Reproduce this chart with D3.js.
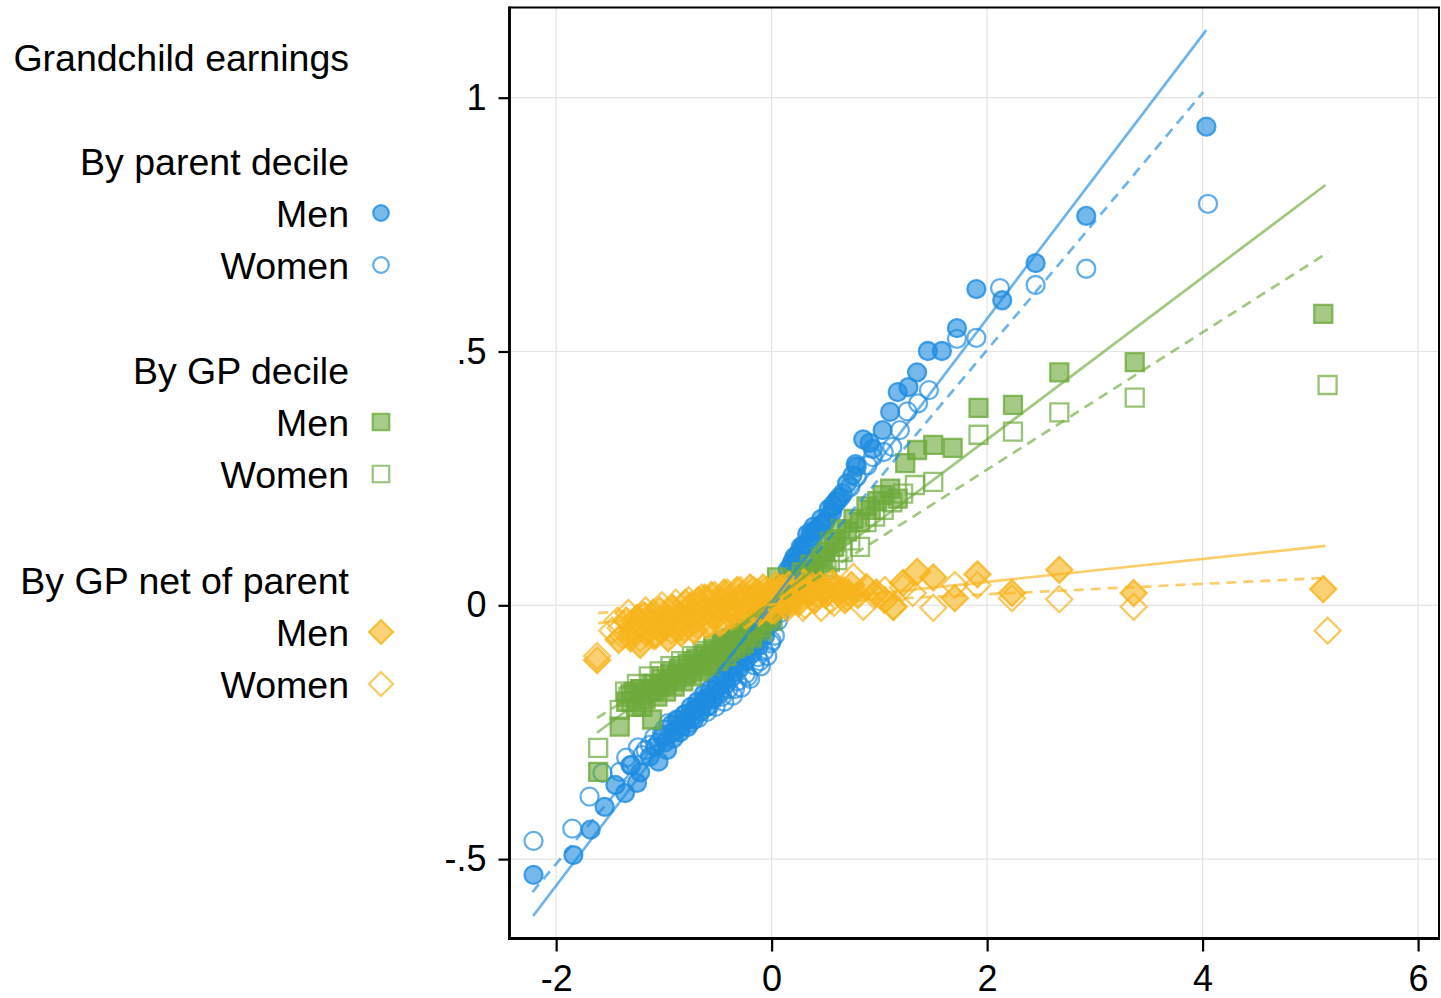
<!DOCTYPE html>
<html>
<head>
<meta charset="utf-8">
<script src="https://cdn.jsdelivr.net/npm/d3@7"></script>
<style>
  html, body { margin: 0; padding: 0; background: #fff; }
  svg { display: block; }
  text { font-family: "Liberation Sans", Arial, Helvetica, sans-serif; fill: #000; }
</style>
</head>
<body>
<svg id="chart" width="1441" height="998"></svg>
<script>
// ---------- DATA ----------
const xTicks = [-2, 0, 2, 4, 6];
const xTickLabels = ["-2", "0", "2", "4", "6"];
const yTicks = [-0.5, 0, 0.5, 1];
const yTickLabels = ["-.5", "0", ".5", "1"];

const legendTitle = "Grandchild earnings";
const groupLabels = ["By parent decile", "By GP decile", "By GP net of parent"];
const sexLabels = ["Men", "Women"];

// By parent decile — men (filled circles)
const parentMen = [
  [-2.21,-0.531],[-1.84,-0.492],[-1.68,-0.442],[-1.55,-0.397],[-1.45,-0.354],[-1.36,-0.37],
  [-1.31,-0.315],[-1.25,-0.35],[-1.22,-0.329],[-1.13,-0.298],[-1.08,-0.279],[-1.05,-0.308],
  [-1.01,-0.259],[-0.97,-0.285],[-0.93,-0.235],[-0.91,-0.262],[-0.87,-0.226],[-0.85,-0.25],
  [-0.81,-0.215],[-0.78,-0.24],[-0.75,-0.20],[-0.72,-0.225],[-0.69,-0.19],[-0.66,-0.21],
  [-0.63,-0.175],[-0.60,-0.20],[-0.57,-0.165],[-0.54,-0.185],[-0.51,-0.15],[-0.48,-0.17],
  [-0.45,-0.135],[-0.42,-0.155],[-0.39,-0.12],[-0.36,-0.14],[-0.33,-0.105],[-0.30,-0.125],
  [-0.27,-0.09],[-0.24,-0.11],[-0.21,-0.075],[-0.18,-0.095],[-0.15,-0.06],[-0.12,-0.08],
  [-0.09,-0.045],[-0.06,-0.06],[-0.03,-0.025],[0.00,-0.035],[0.03,0.0],[0.06,0.01],
  [0.09,0.035],[0.12,0.045],[0.15,0.07],[0.18,0.079],[0.21,0.095],[0.24,0.10],
  [0.27,0.115],[0.30,0.12],[0.33,0.14],[0.36,0.135],[0.39,0.155],[0.42,0.15],
  [0.46,0.17],[0.50,0.165],[0.53,0.19],[0.56,0.182],[0.60,0.205],[0.62,0.211],
  [0.66,0.221],[0.70,0.24],[0.75,0.256],[0.79,0.273],[0.78,0.278],[0.85,0.327],
  [0.91,0.320],[0.94,0.308],[1.03,0.345],[1.10,0.381],[1.17,0.420],[1.27,0.430],
  [1.35,0.459],[1.45,0.501],[1.58,0.501],[1.72,0.546],[1.90,0.623],[2.14,0.601],
  [2.45,0.674],[2.92,0.767],[4.035,0.943],
  [-0.99,-0.27],[-0.89,-0.245],[-0.79,-0.225],[-0.70,-0.205],[-0.61,-0.185],[-0.52,-0.165],
  [-0.43,-0.145],[-0.34,-0.12],[-0.25,-0.10],[-0.16,-0.075],[-0.07,-0.05],[0.02,-0.015],
  [0.10,0.04],[0.19,0.085],[0.28,0.11],[0.37,0.145],[0.47,0.16],[0.57,0.195]
];
// By parent decile — women (hollow circles)
const parentWomen = [
  [-2.21,-0.464],[-1.85,-0.44],[-1.69,-0.377],[-1.57,-0.33],[-1.41,-0.328],[-1.35,-0.30],
  [-1.30,-0.315],[-1.24,-0.28],[-1.20,-0.295],[-1.13,-0.275],[-1.09,-0.26],[-1.05,-0.27],
  [-1.00,-0.245],[-0.96,-0.232],[-0.92,-0.25],[-0.88,-0.225],[-0.84,-0.24],[-0.80,-0.215],
  [-0.76,-0.232],[-0.72,-0.205],[-0.68,-0.222],[-0.64,-0.196],[-0.60,-0.21],[-0.56,-0.185],
  [-0.52,-0.20],[-0.48,-0.175],[-0.44,-0.19],[-0.40,-0.165],[-0.36,-0.178],[-0.32,-0.15],
  [-0.28,-0.162],[-0.24,-0.135],[-0.20,-0.145],[-0.16,-0.118],[-0.13,-0.102],[-0.10,-0.12],
  [-0.07,-0.09],[-0.04,-0.10],[-0.01,-0.075],[0.03,-0.06],[0.06,-0.03],[0.10,0.00],
  [0.13,0.03],[0.17,0.05],[0.20,0.07],[0.23,0.085],[0.28,0.10],[0.33,0.115],
  [0.38,0.13],[0.45,0.154],[0.52,0.174],[0.57,0.198],[0.64,0.213],[0.73,0.233],
  [0.79,0.253],[0.89,0.276],[0.94,0.292],[1.04,0.302],[1.12,0.312],[1.19,0.345],
  [1.26,0.382],[1.36,0.398],[1.46,0.424],[1.72,0.525],[1.90,0.527],[2.12,0.625],
  [2.45,0.631],[2.92,0.663],[4.05,0.791],
  [-1.17,-0.285],[-1.02,-0.255],[-0.86,-0.235],[-0.70,-0.215],[-0.58,-0.198],[-0.46,-0.18],
  [-0.34,-0.165],[-0.22,-0.14],[-0.11,-0.11],[0.00,-0.07],[0.08,-0.015],[0.15,0.04],
  [0.25,0.09],[0.35,0.12],[0.42,0.145],[0.48,0.16],[0.60,0.205]
];
// By GP decile — men (filled squares)
const gpMen = [
  [-1.61,-0.328],[-1.41,-0.239],[-1.35,-0.19],[-1.31,-0.175],[-1.26,-0.20],[-1.22,-0.165],
  [-1.17,-0.185],[-1.11,-0.225],[-1.10,-0.155],[-1.06,-0.18],[-1.02,-0.145],[-0.98,-0.17],
  [-0.94,-0.135],[-0.90,-0.16],[-0.86,-0.125],[-0.82,-0.15],[-0.78,-0.115],[-0.74,-0.14],
  [-0.70,-0.105],[-0.66,-0.13],[-0.62,-0.095],[-0.58,-0.12],[-0.54,-0.085],[-0.50,-0.11],
  [-0.46,-0.075],[-0.42,-0.10],[-0.38,-0.065],[-0.34,-0.085],[-0.30,-0.055],[-0.26,-0.075],
  [-0.22,-0.045],[-0.18,-0.06],[-0.14,-0.03],[-0.10,-0.045],[-0.06,-0.015],[-0.02,-0.025],
  [0.02,0.0],[0.05,0.055],[0.08,0.02],[0.12,0.035],[0.16,0.025],[0.20,0.05],
  [0.24,0.04],[0.28,0.065],[0.32,0.055],[0.36,0.08],[0.40,0.07],[0.45,0.095],
  [0.50,0.105],[0.54,0.125],[0.60,0.13],[0.64,0.15],[0.70,0.145],[0.76,0.17],
  [0.82,0.164],[0.88,0.195],[0.92,0.188],[0.98,0.205],[1.03,0.217],[1.10,0.23],
  [1.17,0.21],[1.24,0.28],[1.35,0.306],[1.50,0.316],[1.68,0.310],[1.92,0.389],
  [2.24,0.395],[2.67,0.459],[3.37,0.479],[5.12,0.574],
  [-1.28,-0.17],[-1.20,-0.20],[-1.12,-0.17],[-1.04,-0.16],[-0.96,-0.15],[-0.88,-0.14],
  [-0.80,-0.135],[-0.72,-0.12],[-0.64,-0.115],[-0.56,-0.10],[-0.48,-0.09],[-0.40,-0.08],
  [-0.32,-0.07],[-0.24,-0.06],[-0.16,-0.045],[-0.08,-0.03],[0.00,-0.01],[0.10,0.01],
  [0.22,0.045],[0.34,0.065],[0.47,0.09],[0.58,0.115]
];
// By GP decile — women (hollow squares)
const gpWomen = [
  [-1.61,-0.281],[-1.41,-0.206],[-1.36,-0.17],[-1.30,-0.19],[-1.25,-0.155],[-1.19,-0.175],
  [-1.14,-0.14],[-1.09,-0.165],[-1.04,-0.13],[-0.99,-0.155],[-0.94,-0.12],[-0.89,-0.145],
  [-0.84,-0.11],[-0.79,-0.135],[-0.74,-0.10],[-0.69,-0.125],[-0.64,-0.09],[-0.59,-0.115],
  [-0.54,-0.08],[-0.49,-0.105],[-0.44,-0.07],[-0.39,-0.09],[-0.34,-0.06],[-0.29,-0.08],
  [-0.24,-0.045],[-0.19,-0.065],[-0.14,-0.035],[-0.09,-0.05],[-0.04,-0.02],[0.01,-0.03],
  [0.06,0.0],[0.11,0.015],[0.16,0.01],[0.21,0.035],[0.26,0.03],[0.31,0.05],
  [0.36,0.045],[0.42,0.065],[0.48,0.075],[0.54,0.085],[0.61,0.089],[0.66,0.105],
  [0.73,0.128],[0.82,0.115],[0.88,0.164],[0.96,0.175],[1.04,0.188],[1.12,0.203],
  [1.22,0.22],[1.33,0.237],[1.50,0.243],[1.92,0.336],[2.24,0.342],[2.67,0.38],
  [3.37,0.409],[5.16,0.434],
  [-1.33,-0.18],[-1.22,-0.165],[-1.12,-0.155],[-1.02,-0.14],[-0.92,-0.13],[-0.82,-0.12],
  [-0.72,-0.11],[-0.62,-0.10],[-0.52,-0.09],[-0.42,-0.08],[-0.32,-0.065],[-0.22,-0.055],
  [-0.12,-0.04],[-0.02,-0.01],[0.08,0.005],[0.18,0.025],[0.28,0.04],[0.39,0.055],[0.51,0.07]
];
// By GP net of parent — men (filled diamonds)
const netMen = [
  [-1.62,-0.108],[-1.42,-0.068],[-1.35,-0.03],[-1.28,-0.05],[-1.22,-0.078],[-1.18,-0.02],
  [-1.13,-0.035],[-1.08,-0.06],[-1.04,-0.01],[-1.00,-0.04],[-0.96,-0.065],[-0.92,-0.005],
  [-0.88,-0.03],[-0.84,-0.055],[-0.80,0.005],[-0.76,-0.02],[-0.72,-0.05],[-0.68,0.01],
  [-0.64,-0.015],[-0.60,-0.04],[-0.56,0.02],[-0.52,-0.005],[-0.48,-0.035],[-0.44,0.025],
  [-0.40,0.0],[-0.36,-0.025],[-0.32,0.03],[-0.28,0.005],[-0.24,-0.02],[-0.20,0.035],
  [-0.16,0.01],[-0.12,-0.015],[-0.08,0.035],[-0.04,0.015],[0.00,-0.01],[0.04,0.04],
  [0.08,0.02],[0.12,0.0],[0.16,0.04],[0.20,0.02],[0.25,0.005],[0.30,0.045],
  [0.35,0.025],[0.40,0.01],[0.45,0.04],[0.50,0.02],[0.56,0.045],[0.62,0.025],
  [0.68,0.01],[0.74,0.04],[0.80,0.02],[0.88,0.036],[0.97,0.025],[1.05,0.01],
  [1.13,-0.003],[1.22,0.044],[1.35,0.066],[1.50,0.055],[1.70,0.014],[1.91,0.061],
  [2.23,0.024],[2.67,0.07],[3.36,0.024],[5.12,0.032],
  [-1.31,-0.065],[-1.25,-0.025],[-1.16,-0.055],[-1.10,-0.015],[-1.02,-0.05],[-0.94,-0.025],
  [-0.86,-0.045],[-0.78,-0.01],[-0.70,-0.03],[-0.62,0.015],[-0.54,-0.02],[-0.46,0.01],
  [-0.38,-0.01],[-0.30,0.015],[-0.22,0.0],[-0.14,0.025],[-0.06,0.0],[0.02,0.025],
  [0.10,0.035],[0.18,0.005],[0.27,0.03],[0.37,0.04],[0.48,0.03],[0.59,0.035],[0.71,0.025]
];
// By GP net of parent — women (hollow diamonds)
const netWomen = [
  [-1.62,-0.10],[-1.48,-0.05],[-1.43,-0.03],[-1.38,-0.06],[-1.33,-0.015],[-1.27,-0.04],
  [-1.22,-0.065],[-1.17,-0.01],[-1.12,-0.035],[-1.07,-0.055],[-1.02,0.0],[-0.97,-0.025],
  [-0.93,-0.05],[-0.89,0.005],[-0.85,-0.02],[-0.81,-0.045],[-0.77,0.01],[-0.73,-0.015],
  [-0.69,-0.04],[-0.65,0.015],[-0.61,-0.01],[-0.57,-0.035],[-0.53,0.02],[-0.49,-0.005],
  [-0.45,-0.03],[-0.41,0.025],[-0.37,0.0],[-0.33,-0.02],[-0.29,0.03],[-0.25,0.01],
  [-0.21,-0.015],[-0.17,0.03],[-0.13,0.01],[-0.09,-0.01],[-0.05,0.03],[-0.01,0.005],
  [0.03,-0.01],[0.07,0.03],[0.11,0.01],[0.15,-0.005],[0.19,0.03],[0.24,0.01],
  [0.29,-0.005],[0.34,0.03],[0.40,0.01],[0.46,-0.005],[0.52,0.025],[0.58,0.005],
  [0.66,0.03],[0.76,0.056],[0.85,-0.003],[0.95,0.02],[1.05,0.03],[1.13,-0.003],
  [1.22,0.035],[1.31,0.024],[1.50,-0.005],[1.70,0.04],[1.91,0.04],[2.23,0.014],
  [2.67,0.012],[3.36,-0.003],[5.16,-0.05],
  [-1.40,-0.045],[-1.30,-0.055],[-1.20,-0.02],[-1.10,-0.06],[-1.00,-0.035],[-0.91,-0.01],
  [-0.83,-0.035],[-0.75,0.0],[-0.67,-0.025],[-0.59,0.01],[-0.51,-0.02],[-0.43,0.015],
  [-0.35,-0.01],[-0.27,0.02],[-0.19,0.0],[-0.11,0.02],[-0.03,-0.005],[0.05,0.02],
  [0.13,0.0],[0.21,0.015],[0.31,0.0],[0.44,0.02],[0.55,0.01],[0.70,0.015]
];

// Linear fit lines: [x0, y0, x1, y1]
const fitParentMen   = [-2.214, -0.612, 4.034, 1.133];
const fitParentWomen = [-2.22, -0.565, 4.006, 1.011];
const fitGpMen       = [-1.62, -0.251, 5.14, 0.828];
const fitGpWomen     = [-1.62, -0.222, 5.17, 0.696];
const fitNetMen      = [-1.61, -0.035, 5.14, 0.117];
const fitNetWomen    = [-1.61, -0.015, 5.15, 0.054];

// ---------- SETUP ----------
const svg = d3.select("#chart");
const plot = { left: 509.5, right: 1439, top: 7.5, bottom: 938.5 };
const x = d3.scaleLinear().domain([-2.433, 6.194]).range([plot.left, plot.right]);
const y = d3.scaleLinear().domain([-0.6564, 1.1777]).range([plot.bottom, plot.top]);

const colors = { blue: "#1e8ce0", green: "#6eaa3c", orange: "#f7b41c" };

// gridlines
const grid = svg.append("g");
grid.selectAll("line.vx").data(xTicks).join("line")
  .attr("x1", d => x(d)).attr("x2", d => x(d))
  .attr("y1", plot.top).attr("y2", plot.bottom)
  .attr("stroke", "#e4e4e4").attr("stroke-width", 1.2);
grid.selectAll("line.hy").data(yTicks).join("line")
  .attr("y1", d => y(d)).attr("y2", d => y(d))
  .attr("x1", plot.left).attr("x2", plot.right)
  .attr("stroke", "#e4e4e4").attr("stroke-width", 1.2);

// marker paths
const squarePath = s => `M${-s/2},${-s/2}h${s}v${s}h${-s}Z`;
const diamondPath = h => `M0,${-h}L${h},0L0,${h}L${-h},0Z`;

function drawMarkers(g, data, shape, color, filled) {
  const sel = g.append("g").selectAll("path").data(data).join("path")
    .attr("transform", d => `translate(${x(d[0])},${y(d[1])})`)
    .attr("d", () => shape === "circle" ? d3.symbol(d3.symbolCircle, Math.PI * 9 * 9)()
                     : shape === "square" ? squarePath(18) : diamondPath(13))
    .attr("stroke", color).attr("stroke-width", 2.3)
    .attr("stroke-opacity", filled ? 0.8 : 0.7);
  if (filled) sel.attr("fill", color).attr("fill-opacity", 0.62);
  else sel.attr("fill", "none");
}

function drawFit(g, f, color, dashed) {
  g.append("line")
    .attr("x1", x(f[0])).attr("y1", y(f[1]))
    .attr("x2", x(f[2])).attr("y2", y(f[3]))
    .attr("stroke", color).attr("stroke-opacity", 0.65)
    .attr("stroke-width", 2.7)
    .attr("stroke-dasharray", dashed ? "10,7" : null);
}

const marks = svg.append("g");
drawMarkers(marks, parentMen, "circle", colors.blue, true);
drawMarkers(marks, parentWomen, "circle", colors.blue, false);
drawMarkers(marks, gpMen, "square", colors.green, true);
drawMarkers(marks, gpWomen, "square", colors.green, false);
drawMarkers(marks, netMen, "diamond", colors.orange, true);
drawMarkers(marks, netWomen, "diamond", colors.orange, false);

const fits = svg.append("g");
drawFit(fits, fitParentMen, colors.blue, false);
drawFit(fits, fitParentWomen, colors.blue, true);
drawFit(fits, fitGpMen, colors.green, false);
drawFit(fits, fitGpWomen, colors.green, true);
drawFit(fits, fitNetMen, colors.orange, false);
drawFit(fits, fitNetWomen, colors.orange, true);

// frame: thinner top/right, heavier left/bottom axes
svg.append("rect")
  .attr("x", plot.left).attr("y", plot.top)
  .attr("width", plot.right - plot.left).attr("height", plot.bottom - plot.top)
  .attr("fill", "none").attr("stroke", "#000").attr("stroke-width", 2);
svg.append("line").attr("x1", plot.left).attr("x2", plot.left)
  .attr("y1", plot.top - 1).attr("y2", plot.bottom + 1.4)
  .attr("stroke", "#000").attr("stroke-width", 2.8);
svg.append("line").attr("x1", plot.left - 1.4).attr("x2", plot.right + 1)
  .attr("y1", plot.bottom).attr("y2", plot.bottom)
  .attr("stroke", "#000").attr("stroke-width", 2.8);

// axes
const xAxis = d3.axisBottom(x).tickValues(xTicks).tickFormat((d, i) => xTickLabels[i])
  .tickSize(13).tickPadding(14);
const gx = svg.append("g").attr("transform", `translate(0,${plot.bottom})`).call(xAxis);
gx.select(".domain").remove();
gx.selectAll(".tick line").attr("stroke", "#000").attr("stroke-width", 2.2);
gx.selectAll(".tick text").attr("font-size", 36).attr("font-family", "Liberation Sans, Arial, sans-serif")
  .attr("fill", "#000");

const yAxis = d3.axisLeft(y).tickValues(yTicks).tickFormat((d, i) => yTickLabels[i])
  .tickSize(11).tickPadding(12);
const gy = svg.append("g").attr("transform", `translate(${plot.left},0)`).call(yAxis);
gy.select(".domain").remove();
gy.selectAll(".tick line").attr("stroke", "#000").attr("stroke-width", 2.2);
gy.selectAll(".tick text").attr("font-size", 36).attr("font-family", "Liberation Sans, Arial, sans-serif")
  .attr("fill", "#000");

// ---------- LEGEND ----------
const leg = svg.append("g");
const textRight = 349;
const markX = 381;
const legFont = 37.5;
leg.append("text").attr("x", textRight).attr("y", 71).attr("text-anchor", "end")
  .attr("font-size", legFont).text(legendTitle);

const groups = [
  { label: groupLabels[0], headY: 175, shape: "circle", color: colors.blue },
  { label: groupLabels[1], headY: 384, shape: "square", color: colors.green },
  { label: groupLabels[2], headY: 594, shape: "diamond", color: colors.orange }
];
groups.forEach(gr => {
  leg.append("text").attr("x", textRight).attr("y", gr.headY).attr("text-anchor", "end")
    .attr("font-size", legFont).text(gr.label);
  sexLabels.forEach((s, i) => {
    const by = gr.headY + 52 * (i + 1);
    leg.append("text").attr("x", textRight).attr("y", by).attr("text-anchor", "end")
      .attr("font-size", legFont).text(s);
    const p = leg.append("path")
      .attr("transform", `translate(${markX},${by - 14})`)
      .attr("d", gr.shape === "circle" ? d3.symbol(d3.symbolCircle, Math.PI * 7.8 * 7.8)()
                 : gr.shape === "square" ? squarePath(16.5) : diamondPath(12))
      .attr("stroke", gr.color).attr("stroke-width", 2.2)
      .attr("stroke-opacity", i === 0 ? 0.8 : 0.7);
    if (i === 0) p.attr("fill", gr.color).attr("fill-opacity", 0.6);
    else p.attr("fill", "none");
  });
});
</script>
</body>
</html>
